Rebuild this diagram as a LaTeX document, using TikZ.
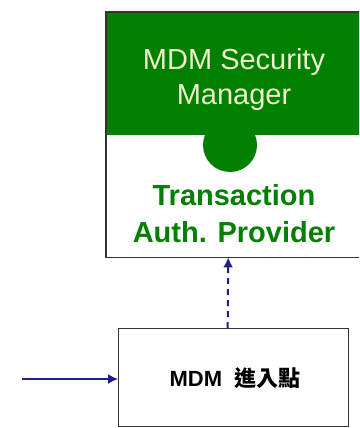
\documentclass[tikz,border=0pt]{standalone}
\usepackage{fontspec}
\setmainfont{Liberation Sans}
\newfontfamily\cjkfont{Noto Sans CJK TC}
\usetikzlibrary{arrows.meta}
\definecolor{mgrgreen}{RGB}{0,128,0}
\definecolor{mgrlabel}{RGB}{240,240,205}
\definecolor{navyline}{RGB}{30,30,140}
\tikzset{
  greenhead/.style={fill=mgrgreen, minimum width=256pt, minimum height=123pt, anchor=north west, inner sep=0pt},
  whitebody/.style={fill=white, minimum width=256pt, minimum height=122pt, anchor=north west, inner sep=0pt},
  entrybox/.style={draw=black!80, line width=1.4pt, fill=white, minimum width=230pt, minimum height=98pt, anchor=north west, inner sep=0pt},
  flowarrow/.style={navyline, line width=1.5pt, -{Latex[length=10pt,width=10pt]}},
  depends/.style={navyline, line width=2pt, dash pattern=on 6pt off 5pt, -{Latex[length=10pt,width=10pt]}}
}
\begin{document}
\begin{tikzpicture}[x=1pt,y=-1pt]
  \useasboundingbox (0,0) rectangle (359,428);
  \clip (0,0) rectangle (359,428);
  % security manager with its provider
  \node[greenhead] (secmgr) at (106,12) {};
  \node[whitebody] (body) at (106,135) {};
  \draw[black!80, line width=1.2pt] (secmgr.north west) rectangle (body.south east);
  \node[circle, fill=mgrgreen, minimum size=54pt, inner sep=0pt] (dot) at (230,145) {};
  \node[text=mgrlabel, font=\fontsize{29}{35}\selectfont, align=center] (mgrlabel) at (234,80) {MDM Security\\Manager};
  \node[text=mgrgreen, font=\fontsize{29}{37}\selectfont\bfseries, align=center] (provlabel) at (234,214) {Transaction\\Auth. Provider};
  % entry point
  \node[entrybox] (entry) at (118,328) {};
  \node[font=\fontsize{22}{26}\selectfont\bfseries] (entrylabel) at (235,378) {MDM\ \ {\cjkfont 進入點}};
  \coordinate (src) at (22,379);
  \draw[flowarrow] (src) -- (entry.west |- src);
  \draw[depends] ([xshift=-6pt]entry.north) -- ([xshift=-6pt]body.south);
\end{tikzpicture}
\end{document}
